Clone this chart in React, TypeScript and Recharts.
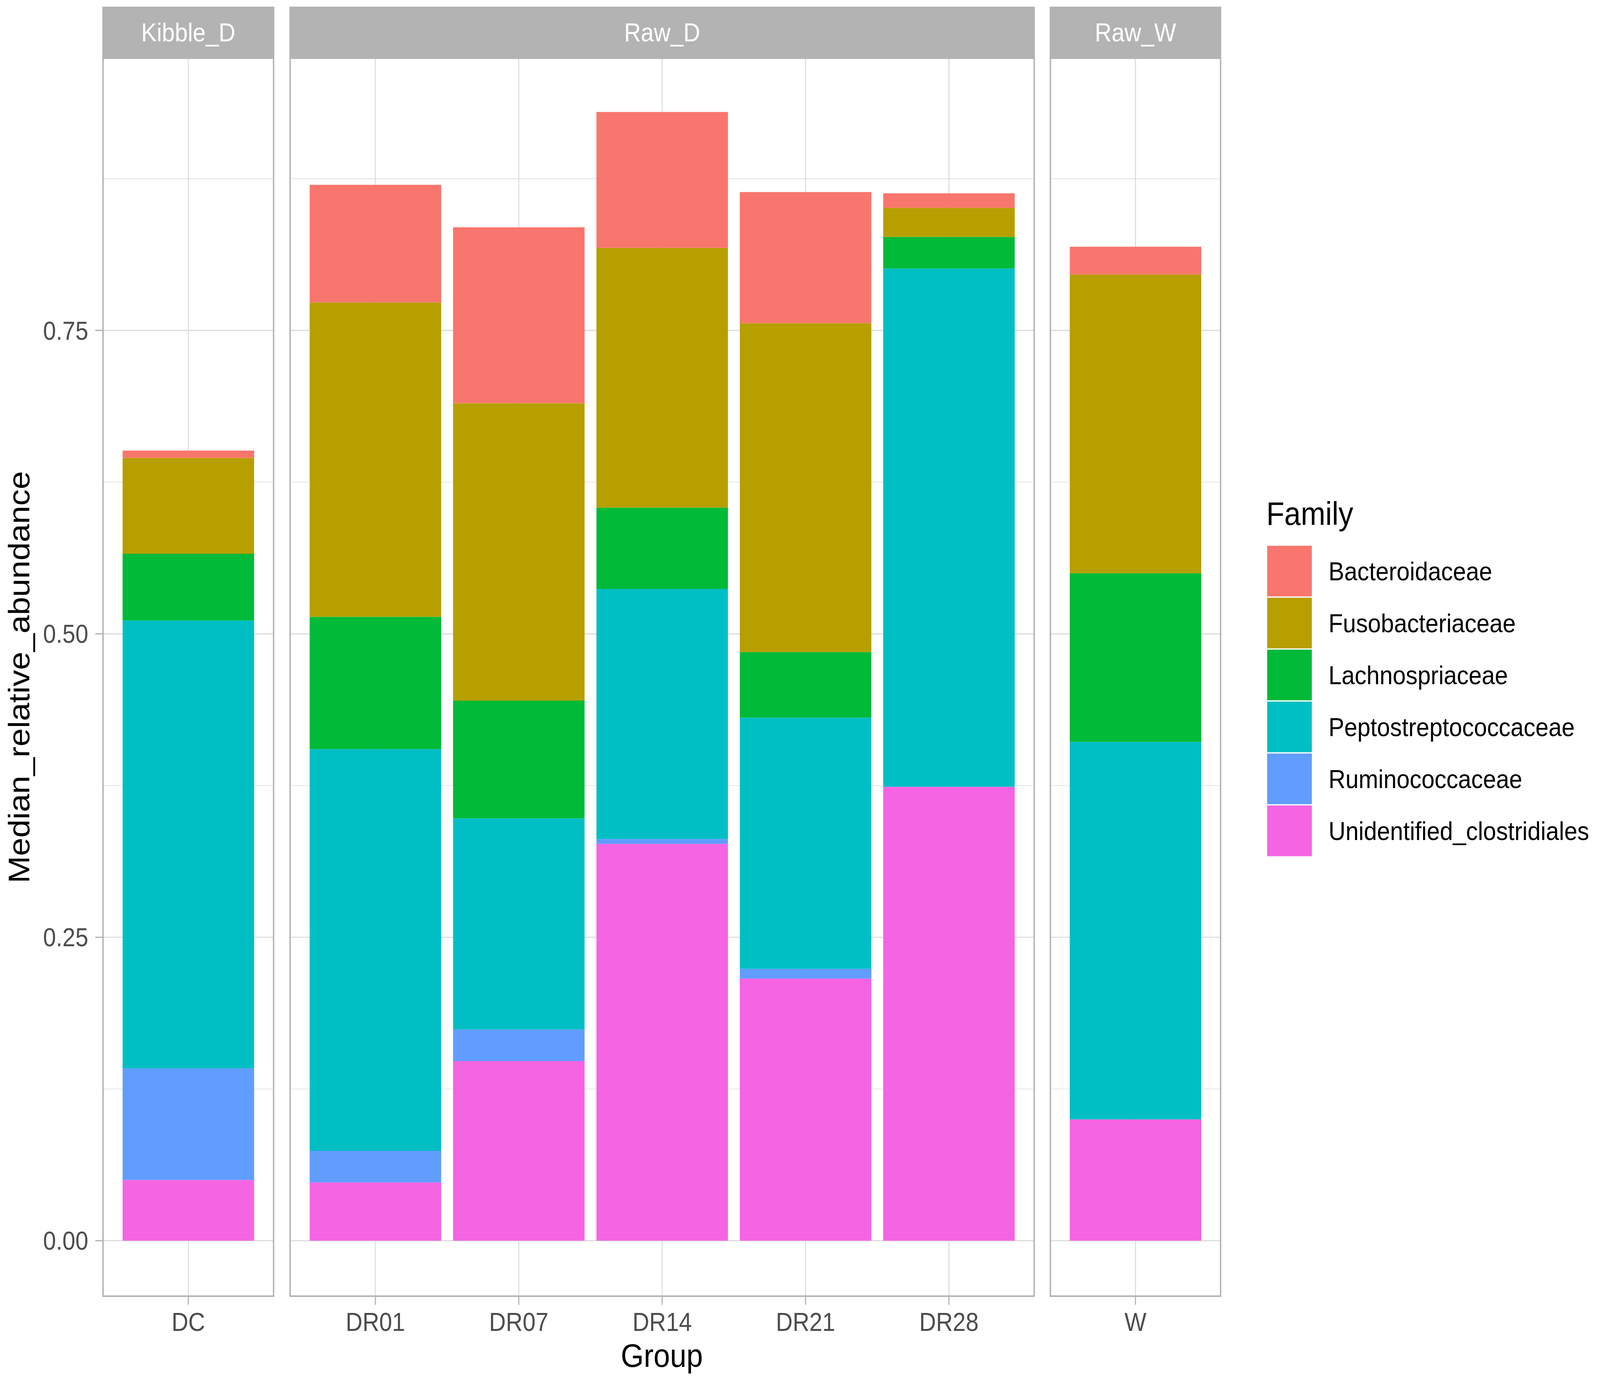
import React from 'react';
import { BarChart, Bar, XAxis, YAxis, CartesianGrid } from 'recharts';

// ---------------- data ----------------
const groups = ['DC', 'DR01', 'DR07', 'DR14', 'DR21', 'DR28', 'W'];
const panelOfGroup = ['Kibble_D', 'Raw_D', 'Raw_D', 'Raw_D', 'Raw_D', 'Raw_D', 'Raw_W'];
const panels = ['Kibble_D', 'Raw_D', 'Raw_W'];

const families = [
  'Bacteroidaceae',
  'Fusobacteriaceae',
  'Lachnospriaceae',
  'Peptostreptococcaceae',
  'Ruminococcaceae',
  'Unidentified_clostridiales',
];
const familyColors = ['#F8766D', '#B79F00', '#00BA38', '#00BFC4', '#619CFF', '#F564E3'];

const bacteroidaceae = [0.006, 0.097, 0.145, 0.112, 0.108, 0.012, 0.023];
const fusobacteriaceae = [0.079, 0.259, 0.245, 0.214, 0.271, 0.024, 0.246];
const lachnospriaceae = [0.055, 0.109, 0.097, 0.067, 0.054, 0.026, 0.139];
const peptostreptococcaceae = [0.369, 0.331, 0.174, 0.206, 0.207, 0.427, 0.311];
const ruminococcaceae = [0.092, 0.026, 0.026, 0.004, 0.008, 0, 0];
const unidentifiedClostridiales = [0.05, 0.048, 0.148, 0.327, 0.216, 0.374, 0.1];

const seriesValues = [
  bacteroidaceae,
  fusobacteriaceae,
  lachnospriaceae,
  peptostreptococcaceae,
  ruminococcaceae,
  unidentifiedClostridiales,
];

const majorTicks = [0, 0.25, 0.5, 0.75];
const minorTicks = [0.125, 0.375, 0.625, 0.875];
const yDomain: [number, number] = [-0.0457, 0.9743];

const rows = groups.map((g, i) => {
  const r: Record<string, any> = { group: g, panel: panelOfGroup[i] };
  families.forEach((f, k) => {
    r[f] = seriesValues[k][i];
  });
  return r;
});

// ---------------- layout ----------------
const W = 4550;
const H = 3526;
const FONT = '"Liberation Sans", Arial, Helvetica, sans-serif';
const PLOT_TOP = 149;
const X_AXIS_H = 207;
const Y_AXIS_W = 293;
const UNIT = 407.75;
const BAR = 374;
const GRID = '#dedede';
const BORDER = '#b3b3b3';
const panelLeft = [293, 825, 2987];
const panelWidth = [485, 2116, 484];

function Panel({ index }: { index: number }) {
  const name = panels[index];
  const data = rows.filter((r) => r.panel === name);
  const showY = index === 0;
  const chartLeft = showY ? panelLeft[index] - Y_AXIS_W : panelLeft[index];
  const chartWidth = showY ? panelWidth[index] + Y_AXIS_W : panelWidth[index];
  const pad = (panelWidth[index] - data.length * UNIT) / 2;
  return (
    <div style={{ position: 'absolute', left: chartLeft, top: 0 }}>
      <BarChart
        width={chartWidth}
        height={H}
        data={data}
        margin={{ top: PLOT_TOP, right: 0, bottom: 0, left: 0 }}
        barSize={BAR}
        style={{ fontFamily: FONT }}
      >
        <CartesianGrid
          stroke={GRID}
          strokeWidth={1.6}
          vertical={false}
          horizontalValues={minorTicks}
        />
        <CartesianGrid stroke={GRID} strokeWidth={3.2} horizontalValues={majorTicks} />
        <XAxis
          dataKey="group"
          type="category"
          interval={0}
          padding={{ left: pad, right: pad }}
          axisLine={false}
          tickLine={{ stroke: BORDER, strokeWidth: 3.2 }}
          tickSize={22}
          tickMargin={20}
          height={X_AXIS_H}
          tick={{ fontSize: 66, fill: '#4d4d4d', fontFamily: FONT }}
        />
        <YAxis
          hide={!showY}
          width={showY ? Y_AXIS_W : 0}
          type="number"
          domain={yDomain}
          allowDataOverflow
          ticks={majorTicks}
          interval={0}
          tickFormatter={(v: number) => v.toFixed(2)}
          axisLine={false}
          tickLine={{ stroke: BORDER, strokeWidth: 3.2 }}
          tickSize={22}
          tickMargin={20}
          tick={{ fontSize: 66, fill: '#4d4d4d', fontFamily: FONT }}
        />
        {families
          .map((f, k) => (
            <Bar
              key={f}
              dataKey={f}
              stackId="a"
              fill={familyColors[k]}
              isAnimationActive={false}
            />
          ))
          .reverse()}
      </BarChart>
      <div
        style={{
          position: 'absolute',
          left: (showY ? Y_AXIS_W : 0) - 2,
          top: PLOT_TOP - 2,
          width: panelWidth[index] + 4,
          height: H - PLOT_TOP - X_AXIS_H + 4,
          border: `4px solid ${BORDER}`,
          boxSizing: 'border-box',
          pointerEvents: 'none',
        }}
      />
    </div>
  );
}

export default function App() {
  const legendX = 3602;
  const legendTop = 1396;
  const keyH = 133;
  const keyW = 130;
  const vw =
    typeof window !== 'undefined'
      ? window.innerWidth || document.documentElement.clientWidth || W
      : W;
  const sx = Math.min(1, vw / W);
  return (
    <div
      style={{
        position: 'absolute',
        left: 0,
        top: 0,
        width: W,
        height: H,
        background: '#ffffff',
        overflow: 'hidden',
        fontFamily: FONT,
        transform: `scaleX(${sx})`,
        transformOrigin: '0 0',
      }}
    >
      {panels.map((p, i) => (
        <Panel key={p} index={i} />
      ))}
      <svg
        width={W}
        height={H}
        style={{ position: 'absolute', left: 0, top: 0, pointerEvents: 'none' }}
        fontFamily={FONT}
      >
        {/* strips */}
        {panels.map((p, i) => (
          <g key={p}>
            <rect
              x={panelLeft[i] - 2}
              y={17}
              width={panelWidth[i] + 4}
              height={PLOT_TOP - 17 - 1}
              fill="#b3b3b3"
            />
            <text
              x={panelLeft[i] + panelWidth[i] / 2}
              y={106}
              textAnchor="middle"
              fontSize={66}
              fill="#ffffff"
            >
              {p}
            </text>
          </g>
        ))}
        {/* axis titles */}
        <text x={1882} y={3500} textAnchor="middle" fontSize={84} fill="#000000">
          Group
        </text>
        <text
          x={0}
          y={0}
          transform={`translate(83, 1734) rotate(-90)`}
          textAnchor="middle"
          fontSize={84}
          fill="#000000"
        >
          Median_relative_abundance
        </text>
        {/* legend */}
        <text x={3601} y={1344} fontSize={84} fill="#000000">
          Family
        </text>
        {families.map((f, k) => (
          <g key={f}>
            <rect
              x={legendX}
              y={legendTop + k * keyH}
              width={keyW}
              height={keyH}
              fill={familyColors[k]}
              stroke="#ffffff"
              strokeWidth={3}
            />
            <text
              x={3778}
              y={legendTop + k * keyH + keyH / 2 + 24}
              fontSize={67}
              fill="#000000"
            >
              {f}
            </text>
          </g>
        ))}
      </svg>
    </div>
  );
}
